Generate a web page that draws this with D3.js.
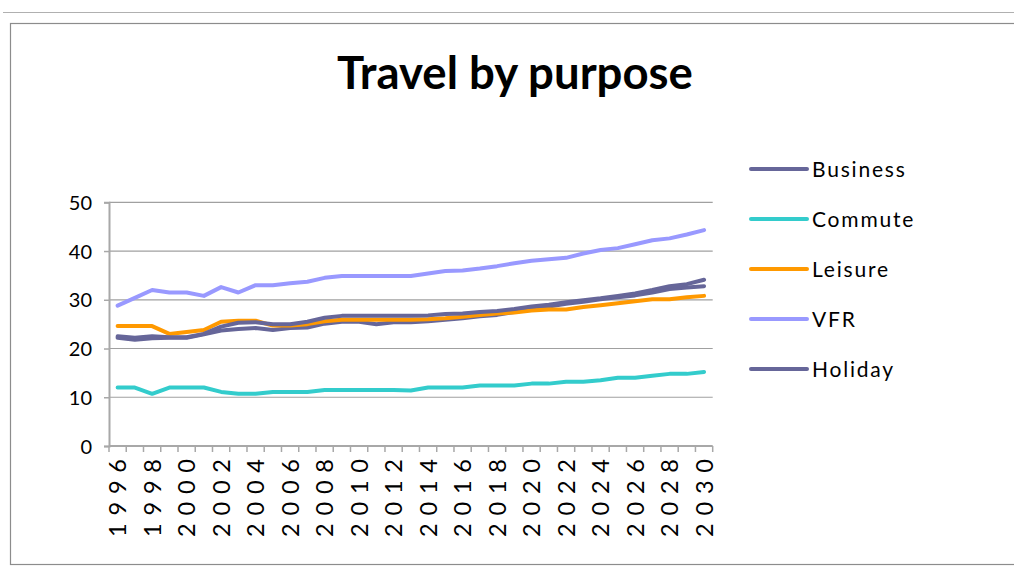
<!DOCTYPE html>
<html>
<head>
<meta charset="utf-8">
<script src="https://cdn.jsdelivr.net/npm/d3@7"></script>
<style>
  html, body { margin: 0; padding: 0; background: #fff; }
  svg { display: block; }
  text { font-family: Lato, "Open Sans", sans-serif; fill: #000; }
</style>
</head>
<body>
<svg id="chart" width="1014" height="567"></svg>
<script>
// Trips by purpose, 1996-2030
const years = d3.range(1996, 2031);
const business = [22.2, 21.8, 22.1, 22.2, 22.2, 22.9, 23.7, 24.0, 24.2, 23.8, 24.2, 24.3, 25.1, 25.5, 25.5, 25.0, 25.4, 25.4,
                  25.6, 25.9, 26.2, 26.6, 26.9, 27.5, 28.1, 28.6, 29.2, 29.6, 30.1, 30.5, 30.9, 31.5, 32.2, 32.5, 32.8];
const commute  = [12.0, 12.0, 10.7, 12.0, 12.0, 12.0, 11.1, 10.7, 10.7, 11.1, 11.1, 11.1, 11.5, 11.5, 11.5, 11.5, 11.5, 11.4,
                  12.0, 12.0, 12.0, 12.4, 12.4, 12.4, 12.8, 12.8, 13.2, 13.2, 13.5, 14.0, 14.0, 14.4, 14.8, 14.8, 15.2];
const leisure  = [24.6, 24.6, 24.6, 23.0, 23.4, 23.8, 25.5, 25.7, 25.7, 24.7, 24.7, 25.0, 25.6, 25.9, 25.9, 25.9, 25.9, 25.9,
                  26.0, 26.2, 26.5, 26.9, 27.2, 27.4, 27.8, 28.0, 28.0, 28.5, 28.9, 29.3, 29.7, 30.1, 30.1, 30.5, 30.8];
const vfr      = [28.8, 30.4, 32.0, 31.5, 31.5, 30.8, 32.6, 31.5, 33.0, 33.0, 33.4, 33.7, 34.5, 34.9, 34.9, 34.9, 34.9, 34.9,
                  35.4, 35.9, 36.0, 36.4, 36.9, 37.5, 38.0, 38.3, 38.6, 39.5, 40.2, 40.6, 41.4, 42.2, 42.6, 43.4, 44.3];
const holiday  = [22.5, 22.2, 22.5, 22.3, 22.3, 23.0, 24.5, 25.3, 25.4, 25.0, 25.0, 25.5, 26.3, 26.7, 26.7, 26.7, 26.7, 26.7,
                  26.8, 27.1, 27.2, 27.5, 27.7, 28.1, 28.6, 29.0, 29.5, 29.9, 30.3, 30.8, 31.3, 32.0, 32.8, 33.2, 34.1];
const yTicks = [0, 10, 20, 30, 40, 50];
const xLabelYears = years.filter(y => y % 2 === 0);

const series = [
  { name: "Business", values: business, color: "#666699" },
  { name: "Commute",  values: commute,  color: "#33CCCC" },
  { name: "Leisure",  values: leisure,  color: "#FF9900" },
  { name: "VFR",      values: vfr,      color: "#9999FF" },
  { name: "Holiday",  values: holiday,  color: "#666699" }
];

const svg = d3.select("#chart");

// outer frame
svg.append("line").attr("x1", 3).attr("x2", 1014).attr("y1", 12.5).attr("y2", 12.5)
  .attr("stroke", "#b0b0b0").attr("stroke-width", 1);
svg.append("rect").attr("x", 10.5).attr("y", 23.5).attr("width", 1010).attr("height", 541)
  .attr("fill", "#fff").attr("stroke", "#8c8c8c").attr("stroke-width", 1.2);

const plot = { left: 109, right: 712.7, top: 202.3, bottom: 446 };

const x = d3.scaleBand().domain(years).range([plot.left, plot.right]);
const y = d3.scaleLinear().domain([0, 50]).range([plot.bottom, plot.top]);

// gridlines
svg.append("g")
  .selectAll("line").data(yTicks.filter(t => t > 0)).join("line")
  .attr("x1", plot.left).attr("x2", plot.right)
  .attr("y1", d => y(d)).attr("y2", d => y(d))
  .attr("stroke", "#a0a0a0").attr("stroke-width", 1.2);

// y axis
const yAxis = svg.append("g").attr("transform", `translate(${plot.left},0)`)
  .call(d3.axisLeft(y).tickValues(yTicks).tickSize(5).tickPadding(12).tickFormat(d3.format("d")));
yAxis.select(".domain").attr("stroke", "#a8a8a8").attr("stroke-width", 2);
yAxis.selectAll(".tick line").attr("stroke", "#a8a8a8").attr("stroke-width", 1.5);
yAxis.selectAll(".tick text").attr("font-size", 20).attr("font-family", "Lato, sans-serif")
  .attr("fill", "#000").attr("dy", "0.36em");

// x axis: ticks on category boundaries
const xg = svg.append("g");
xg.append("line").attr("x1", plot.left).attr("x2", plot.right)
  .attr("y1", plot.bottom).attr("y2", plot.bottom)
  .attr("stroke", "#a8a8a8").attr("stroke-width", 2);
const boundaries = years.map(yr => x(yr)).concat([plot.right]);
xg.selectAll("line.tk").data(boundaries).join("line").attr("class", "tk")
  .attr("x1", d => d).attr("x2", d => d)
  .attr("y1", plot.bottom).attr("y2", plot.bottom + 6)
  .attr("stroke", "#a8a8a8").attr("stroke-width", 1.5);
xg.selectAll("text").data(xLabelYears).join("text")
  .attr("transform", d => `translate(${x(d) + x.bandwidth() / 2 + 8.5},${plot.bottom + 13}) rotate(-90)`)
  .attr("text-anchor", "end")
  .attr("font-size", 23.5)
  .attr("textLength", 78).attr("lengthAdjust", "spacing")
  .text(d => d);

// series lines
const line = d3.line()
  .x((d, i) => x(years[i]) + x.bandwidth() / 2)
  .y(d => y(d));
svg.append("g").selectAll("path").data(series).join("path")
  .attr("d", s => line(s.values))
  .attr("fill", "none")
  .attr("stroke", s => s.color)
  .attr("stroke-width", 4)
  .attr("stroke-linejoin", "round")
  .attr("stroke-linecap", "round");

// legend
const lg = svg.append("g");
const items = lg.selectAll("g").data(series).join("g")
  .attr("transform", (d, i) => `translate(0,${169 + i * 50})`);
items.append("line").attr("x1", 751).attr("x2", 807).attr("y1", 0).attr("y2", 0)
  .attr("stroke", d => d.color).attr("stroke-width", 4).attr("stroke-linecap", "round");
items.append("text").attr("x", 812).attr("y", 0).attr("dy", "0.36em")
  .attr("font-size", 21).attr("letter-spacing", 1.8)
  .text(d => d.name);

// title
const title = svg.append("text").attr("x", 515).attr("y", 89)
  .attr("text-anchor", "middle").attr("font-size", 40).attr("font-weight", "bold")
  .text("Travel by purpose");
const tw = title.node().getComputedTextLength();
title.attr("font-size", 40 * 356 / tw);
</script>
</body>
</html>
